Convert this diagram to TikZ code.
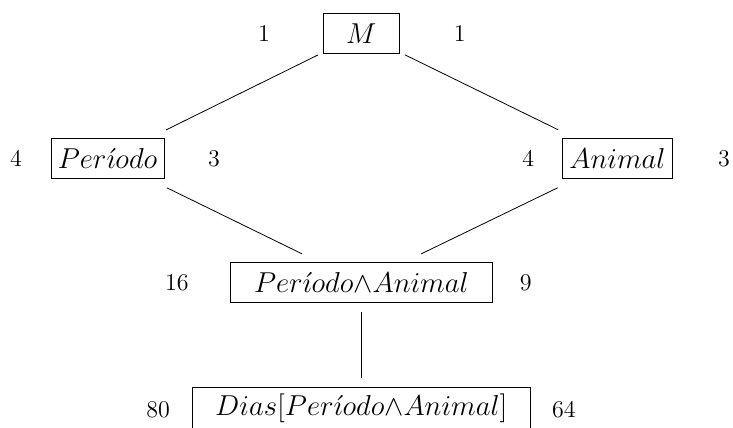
\documentclass[tikz,border=0pt]{standalone}
\usepackage{amsmath,amssymb}
\usepackage{tikz}

\begin{document}
\begin{tikzpicture}[
  lvl/.style={rectangle,draw,font=\Large,minimum height=20pt,outer xsep=3pt,outer ysep=4.5pt},
  num/.style={font=\large},
]
\useasboundingbox (0,0) rectangle (12.88,-7.52);

% lattice of factors
\node[lvl,minimum width=1.32cm] (top) at (6.35,-0.59) {$M$};
\node[lvl] (periodo) at (1.89,-2.79) {$Per\acute{\imath}odo$};
\node[lvl] (animal) at (10.85,-2.79) {$Animal$};
\node[lvl,minimum width=4.62cm] (cross) at (6.35,-4.97) {$Per\acute{\imath}odo{\wedge}Animal$};
\node[lvl,minimum width=5.94cm] (dias) at (6.35,-7.17) {$Dias[Per\acute{\imath}odo{\wedge}Animal]$};

% counts beside each factor
\node[num] (topL) at (4.64,-0.59) {1};
\node[num] (topR) at (8.08,-0.59) {1};
\node[num] (periodoL) at (0.28,-2.79) {4};
\node[num] (periodoR) at (3.76,-2.79) {3};
\node[num] (animalL) at (9.28,-2.79) {4};
\node[num] (animalR) at (12.72,-2.79) {3};
\node[num] (crossL) at (3.11,-4.97) {16};
\node[num] (crossR) at (9.24,-4.97) {9};
\node[num] (diasL) at (2.78,-7.2) {80};
\node[num] (diasR) at (9.91,-7.2) {64};

\draw (top) -- (periodo);
\draw (top) -- (animal);
\draw (periodo) -- (cross);
\draw (animal) -- (cross);
\draw (cross) -- (dias);
\end{tikzpicture}
\end{document}
